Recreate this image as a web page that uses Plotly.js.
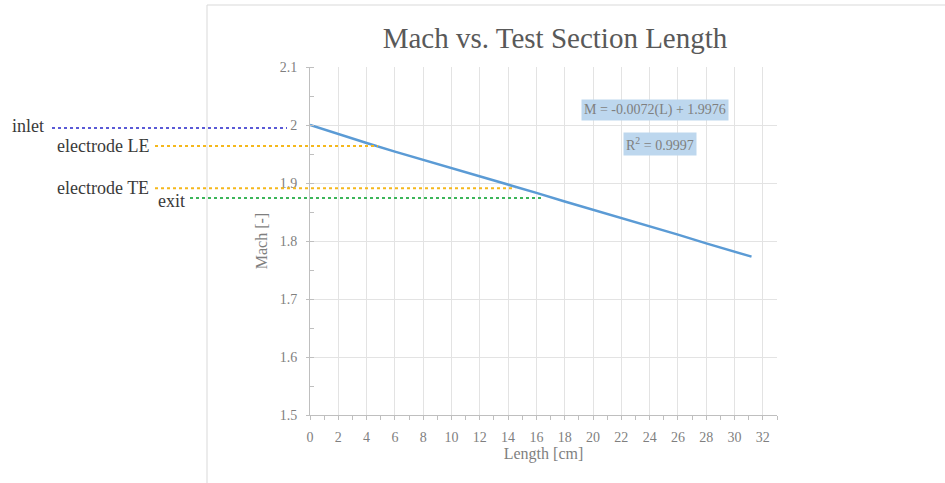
<!DOCTYPE html>
<html>
<head>
<meta charset="utf-8">
<script src="https://cdn.plot.ly/plotly-3.0.1.min.js"></script>
<style>html,body{margin:0;padding:0;background:#fff;}#chart{width:945px;height:483px;}</style>
</head>
<body>
<div id="chart"></div>
<script>
// Data
var lengthCm = [0, 2, 4, 6, 8, 10, 12, 14, 16, 18, 20, 22, 24, 26, 28, 30, 31.2];
var mach = [2.000, 1.984, 1.969, 1.954, 1.940, 1.926, 1.911, 1.897, 1.883, 1.868, 1.854, 1.840, 1.825, 1.811, 1.796, 1.782, 1.773];
var xTicks = [0, 2, 4, 6, 8, 10, 12, 14, 16, 18, 20, 22, 24, 26, 28, 30, 32];
var yTicks = [1.5, 1.6, 1.7, 1.8, 1.9, 2.0, 2.1];
var yTickLabels = ['1.5', '1.6', '1.7', '1.8', '1.9', '2', '2.1'];
var markerNames = ['inlet', 'electrode LE', 'electrode TE', 'exit'];
var markerMach = [1.995, 1.964, 1.891, 1.874];
var markerLength = [0, 4.8, 14.5, 16.4];
var markerColors = ['#5a5ad6', '#f5b81c', '#f5b81c', '#3cb55a'];
var equationText = 'M = -0.0072(L) + 1.9976';
var r2Text = 'R<sup>2</sup> = 0.9997';

var X_MAX = 33, Y_MIN = 1.5, Y_MAX = 2.1;
var serif = 'Liberation Serif, Times New Roman, serif';

function px2paperX(px) { return (px - 310) / 467; }
function px2paperY(py) { return (415 - py) / 348; }
function machToPaperY(m) { return (m - Y_MIN) / (Y_MAX - Y_MIN); }

var lineStartPx = [52, 155, 155, 190];
var labelXpx = [46, 151, 151, 187];
var labelYoff = [-2, 0, 0, 3];

var shapes = [];
var annotations = [];
for (var i = 0; i < markerNames.length; i++) {
  var yp = machToPaperY(markerMach[i]);
  var xEnd = i === 0 ? px2paperX(287) : markerLength[i] / X_MAX;
  shapes.push({type: 'line', xref: 'paper', yref: 'paper',
    x0: px2paperX(lineStartPx[i]), x1: xEnd, y0: yp, y1: yp,
    line: {color: markerColors[i], width: 2, dash: 'dot'}});
  annotations.push({xref: 'paper', yref: 'paper', x: px2paperX(labelXpx[i]),
    y: yp - labelYoff[i] / 348, xanchor: 'right', yanchor: 'middle',
    text: markerNames[i], showarrow: false,
    font: {family: serif, size: 18, color: '#3a3a3a'}});
}
// chart area frame (left and top edges)
shapes.push({type: 'line', xref: 'paper', yref: 'paper', x0: px2paperX(207), x1: px2paperX(207),
  y0: px2paperY(490), y1: px2paperY(5), line: {color: '#d9d9d9', width: 1}});
shapes.push({type: 'line', xref: 'paper', yref: 'paper', x0: px2paperX(207), x1: px2paperX(950),
  y0: px2paperY(5), y1: px2paperY(5), line: {color: '#d9d9d9', width: 1}});

annotations.push({xref: 'x', yref: 'y', x: 24.4, y: 2.026, text: equationText, showarrow: false,
  bgcolor: '#bdd7ee', font: {family: serif, size: 14, color: '#7f7f7f'}, borderpad: 2});
annotations.push({xref: 'x', yref: 'y', x: 24.7, y: 1.968, text: r2Text, showarrow: false,
  bgcolor: '#bdd7ee', font: {family: serif, size: 14, color: '#7f7f7f'}, borderpad: 2});

var trace = {x: lengthCm, y: mach, type: 'scatter', mode: 'lines',
  line: {color: '#5b9bd5', width: 2.5}, hoverinfo: 'x+y'};

var layout = {
  width: 945, height: 483,
  margin: {l: 310, r: 168, t: 67, b: 68},
  paper_bgcolor: '#ffffff', plot_bgcolor: '#ffffff',
  showlegend: false,
  title: {text: 'Mach vs. Test Section Length', x: 555/945, xanchor: 'center', xref: 'container',
    y: 1 - 38/483, yanchor: 'middle', yref: 'container',
    font: {family: serif, size: 29, color: '#595959'}},
  xaxis: {range: [0, X_MAX], tickvals: xTicks, ticktext: xTicks.map(String),
    showgrid: true, gridcolor: '#e3e3e3', gridwidth: 1, zeroline: false,
    showline: true, linecolor: '#bfbfbf', linewidth: 1,
    ticks: 'outside', ticklen: 4, tickcolor: '#bfbfbf', ticklabelstandoff: 5,
    minor: {dtick: 1, tick0: 0, ticks: 'outside', ticklen: 4, tickcolor: '#bfbfbf', showgrid: false},
    tickfont: {family: serif, size: 14, color: '#7f7f7f'},
    title: {text: 'Length [cm]', font: {family: serif, size: 16, color: '#7f7f7f'}, standoff: 4}},
  yaxis: {range: [Y_MIN, Y_MAX], tickvals: yTicks, ticktext: yTickLabels,
    showgrid: true, gridcolor: '#e3e3e3', gridwidth: 1, zeroline: false,
    showline: true, linecolor: '#bfbfbf', linewidth: 1,
    ticks: 'outside', ticklen: 3, tickcolor: '#bfbfbf', ticklabelstandoff: 6,
    minor: {dtick: 0.05, tick0: 1.5, ticks: 'inside', ticklen: 4, tickcolor: '#bfbfbf', showgrid: false},
    tickfont: {family: serif, size: 14, color: '#7f7f7f'},
    title: {text: 'Mach [-]', font: {family: serif, size: 16, color: '#7f7f7f'}, standoff: 8}},
  shapes: shapes,
  annotations: annotations
};

Plotly.newPlot('chart', [trace], layout, {displayModeBar: false, staticPlot: true});
</script>
</body>
</html>
